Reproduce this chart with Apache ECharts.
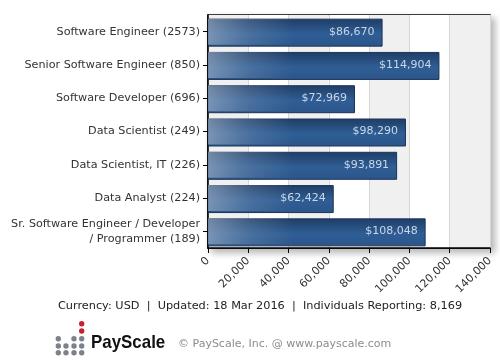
<!DOCTYPE html>
<html>
<head>
<meta charset="utf-8">
<script src="https://cdn.jsdelivr.net/npm/echarts@6/dist/echarts.min.js"></script>
<style>
html,body{margin:0;padding:0;background:#fff;}
#c{width:500px;height:360px;}
</style>
</head>
<body>
<div id="c"></div>
<script>
var categories = [
  'Software Engineer (2573)',
  'Senior Software Engineer (850)',
  'Software Developer (696)',
  'Data Scientist (249)',
  'Data Scientist, IT (226)',
  'Data Analyst (224)',
  'Sr. Software Engineer / Developer\n/ Programmer (189)'
];
var salaries = [86670, 114904, 72969, 98290, 93891, 62424, 108048];
var xMin = 0, xMax = 140000, xStep = 20000;
var footerText = 'Currency: USD  |  Updated: 18 Mar 2016  |  Individuals Reporting: 8,169';
var copyrightText = '\u00a9 PayScale, Inc. @ www.payscale.com';
var brandText = 'PayScale';

function fmt(v){ return String(v).replace(/\B(?=(\d{3})+(?!\d))/g, ','); }

var GL = 208, GT = 15, GR = 10, GB = 112;
var font = 'DejaVu Sans, Verdana, sans-serif';

// logo dots (pattern, not data)
var dots = [];
var colX = [58.3, 66, 74, 81.7];
var rowY = [323.7, 331, 338.7, 346, 352.7];
var pattern = [
  [0,0,0,2],
  [0,0,0,2],
  [1,0,1,1],
  [1,1,1,1],
  [1,1,1,1]
];
for (var r = 0; r < pattern.length; r++) {
  for (var c = 0; c < 4; c++) {
    if (pattern[r][c]) {
      dots.push({
        type: 'circle',
        shape: {cx: colX[c], cy: rowY[r], r: 2.7},
        style: {fill: pattern[r][c] === 2 ? '#c8202f' : '#7d828a'}
      });
    }
  }
}

var chart = echarts.init(document.getElementById('c'), null, {renderer: 'canvas'});
chart.setOption({
  animation: false,
  backgroundColor: '#fff',
  grid: {
    left: GL, top: GT, right: GR, bottom: GB,
    show: true,
    backgroundColor: '#fff',
    borderColor: '#000',
    borderWidth: 1.5,
    shadowColor: 'rgba(0,0,0,0.28)',
    shadowBlur: 7,
    shadowOffsetX: 4,
    shadowOffsetY: 4
  },
  xAxis: {
    type: 'value',
    min: xMin, max: xMax, interval: xStep,
    axisLine: {show: true, lineStyle: {color: '#000', width: 1.5}},
    axisTick: {show: true, length: 5, lineStyle: {color: '#000'}},
    axisLabel: {
      rotate: 45, margin: 11, fontSize: 11, fontFamily: font, color: '#333',
      formatter: function(v){ return fmt(v); }
    },
    splitLine: {show: true, lineStyle: {color: '#d6d6d6', width: 1}},
    splitArea: {show: true, areaStyle: {color: ['#f0f0f0', '#ffffff']}}
  },
  yAxis: {
    type: 'category',
    data: categories,
    inverse: true,
    axisLine: {show: true, lineStyle: {color: '#000', width: 1.5}},
    axisTick: {show: true, alignWithLabel: true, length: 5, lineStyle: {color: '#000'}},
    axisLabel: {margin: 8, fontSize: 11.2, fontFamily: font, color: '#333', lineHeight: 15, align: 'right'},
    splitLine: {show: true, alignWithLabel: true, lineStyle: {color: '#d6d6d6', width: 1}}
  },
  series: [
    {
      type: 'bar',
      data: salaries,
      barWidth: 28,
      silent: true,
      itemStyle: {
        borderColor: '#1a3459',
        borderWidth: 1,
        color: {
          type: 'linear', x: 0, y: 0, x2: 0, y2: 1,
          colorStops: [
            {offset: 0, color: '#1f3d66'},
            {offset: 0.55, color: '#2f5e95'},
            {offset: 1, color: '#2b5589'}
          ]
        }
      }
    },
    {
      type: 'bar',
      data: salaries,
      barWidth: 26,
      barGap: '-100%',
      silent: true,
      itemStyle: {
        color: {
          type: 'linear', x: GL, y: 0, x2: GL + 85, y2: 0, global: true,
          colorStops: [
            {offset: 0, color: 'rgba(170,185,205,0.6)'},
            {offset: 0.5, color: 'rgba(150,170,195,0.25)'},
            {offset: 1, color: 'rgba(150,170,195,0)'}
          ]
        }
      },
      label: {
        show: true,
        position: 'insideRight',
        distance: 8,
        fontSize: 11,
        fontFamily: font,
        color: '#c9d7e8',
        formatter: function(p){ return '$' + fmt(p.value); }
      }
    }
  ],
  graphic: [
    {
      type: 'text', x: 260, y: 301,
      style: {text: footerText, font: '11.3px ' + font, fill: '#222', textAlign: 'center'}
    },
    {
      type: 'text', x: 91, y: 333, scaleX: 0.89,
      style: {text: brandText, font: 'bold 19px "Liberation Sans", Arial, sans-serif', fill: '#111'}
    },
    {
      type: 'text', x: 178, y: 339,
      style: {text: copyrightText, font: '11px ' + font, fill: '#8c8c8c'}
    }
  ].concat(dots)
});
</script>
</body>
</html>
